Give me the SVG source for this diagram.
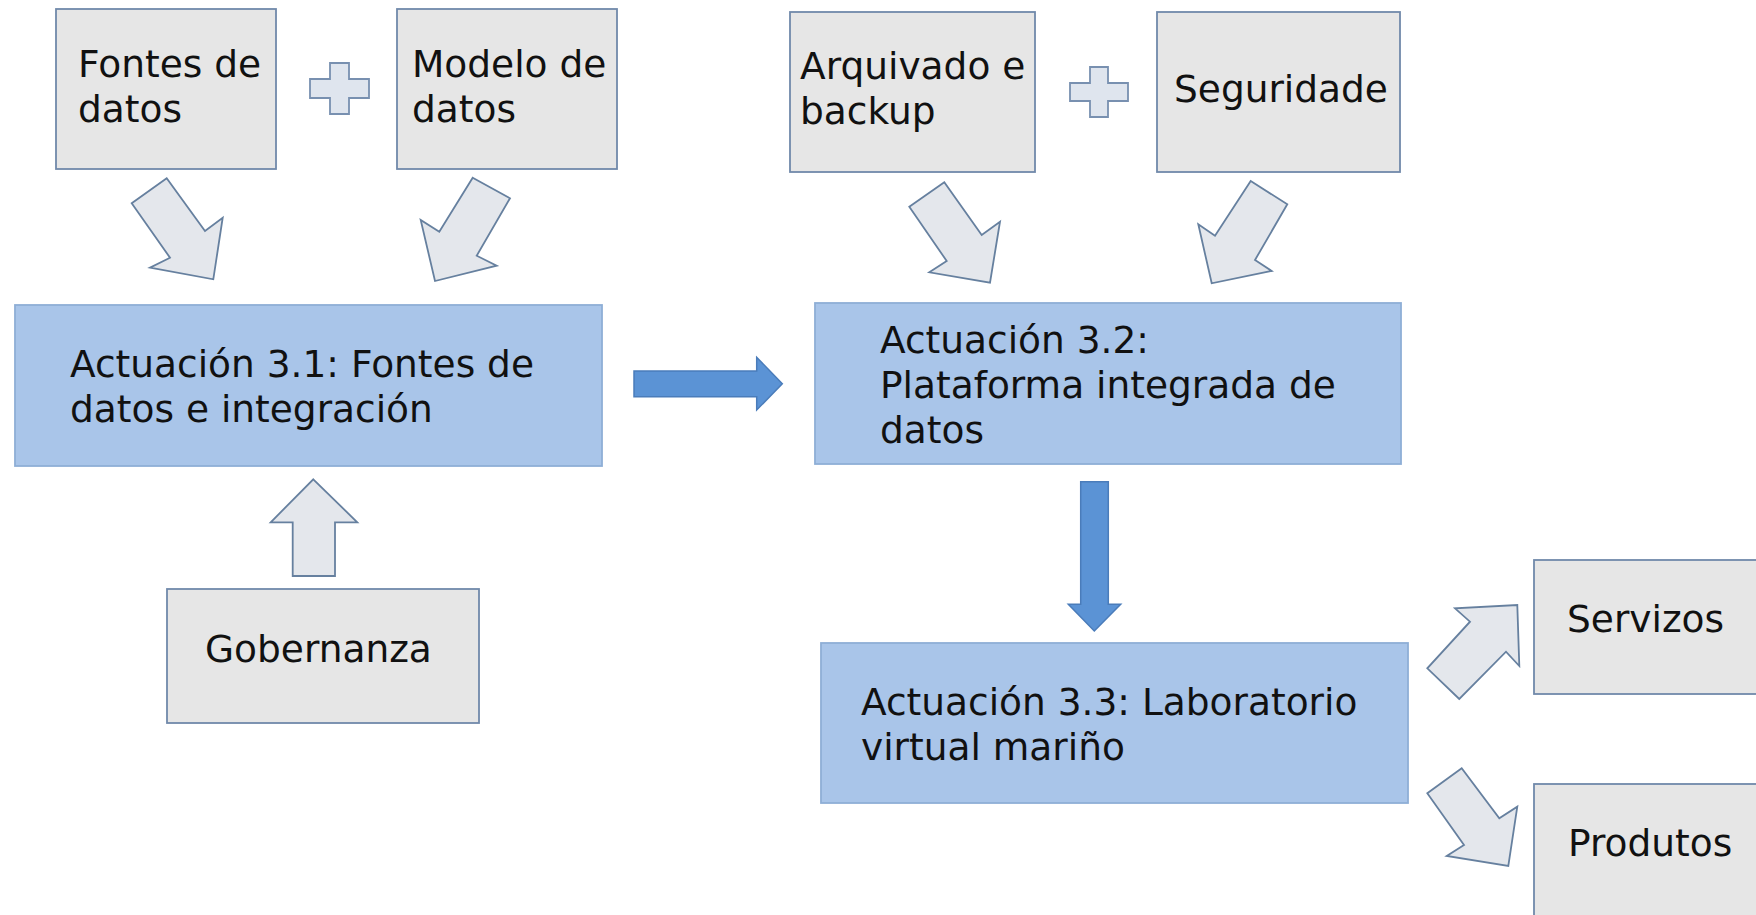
<svg xmlns="http://www.w3.org/2000/svg" width="1756" height="915" viewBox="0 0 1756 915">
<style>
  .grey { fill: #e6e6e6; stroke: #7089aa; stroke-width: 1.8; }
  .blue { fill: #a9c5e9; stroke: #8eaed6; stroke-width: 1.8; }
  .garrow { fill: #e4e7ec; stroke: #66809f; stroke-width: 1.8; stroke-linejoin: miter; }
  .barrow { fill: #5b93d5; stroke: #4a7cba; stroke-width: 1.5; }
  .plus { fill: #dfe5ee; stroke: #7890b0; stroke-width: 1.8; }
  text { font-family: "DejaVu Sans", Verdana, sans-serif; font-size: 37.5px; fill: #111111; }
</style>
<rect width="1756" height="915" fill="#ffffff"/>

<g id="fontes">
  <rect class="grey" x="56" y="9" width="220" height="160"/>
  <text x="78" y="77">Fontes de</text>
  <text x="78" y="122">datos</text>
</g>
<g id="modelo">
  <rect class="grey" x="397" y="9" width="220" height="160"/>
  <text x="412" y="77">Modelo de</text>
  <text x="412" y="122">datos</text>
</g>
<g id="plus1">
  <polygon class="plus" points="330,63 349,63 349,79 369,79 369,98 349,98 349,114 330,114 330,98 310,98 310,79 330,79"/>
</g>
<g id="act31">
  <rect class="blue" x="15" y="305" width="587" height="161"/>
  <text x="70" y="377">Actuación 3.1: Fontes de</text>
  <text x="70" y="422">datos e integración</text>
</g>
<g id="gobernanza">
  <rect class="grey" x="167" y="589" width="312" height="134"/>
  <text x="205" y="662">Gobernanza</text>
</g>
<g id="arquivado">
  <rect class="grey" x="790" y="12" width="245" height="160"/>
  <text x="800" y="79">Arquivado e</text>
  <text x="800" y="124">backup</text>
</g>
<g id="plus2">
  <polygon class="plus" points="1090,67 1108,67 1108,83 1128,83 1128,101 1108,101 1108,117 1090,117 1090,101 1070,101 1070,83 1090,83"/>
</g>
<g id="seguridade">
  <rect class="grey" x="1157" y="12" width="243" height="160"/>
  <text x="1174" y="102">Seguridade</text>
</g>
<g id="act32">
  <rect class="blue" x="815" y="303" width="586" height="161"/>
  <text x="880" y="353">Actuación 3.2:</text>
  <text x="880" y="398">Plataforma integrada de</text>
  <text x="880" y="443">datos</text>
</g>
<g id="act33">
  <rect class="blue" x="821" y="643" width="587" height="160"/>
  <text x="861" y="715">Actuación 3.3: Laboratorio</text>
  <text x="861" y="760">virtual mariño</text>
</g>
<g id="servizos">
  <rect class="grey" x="1534" y="560" width="240" height="134"/>
  <text x="1567" y="632">Servizos</text>
</g>
<g id="produtos">
  <rect class="grey" x="1534" y="784" width="240" height="150"/>
  <text x="1568" y="856">Produtos</text>
</g>

<g id="connectors">
  <polygon class="garrow" points="166.7,178.3 131.7,203.3 170,257.7 150,267.7 213.3,279.3 222.7,217.7 205,231"/>
  <polygon class="garrow" points="472.7,177.7 510,198.3 476.7,255.7 496.7,265.7 435,281 420.7,220 439.3,231.7"/>
  <polygon class="garrow" points="944.3,182.3 909.3,206.7 946.7,261 929.3,272.3 990,282.7 1000,221.7 981.7,235"/>
  <polygon class="garrow" points="1250.7,181 1287.3,204.3 1255,260 1271.7,271 1211.7,283.3 1198.3,224.3 1215,235.7"/>
  <polygon class="garrow" points="313.3,479.3 357.3,522.3 335,522.3 335,576 292.7,576 292.7,522.3 270.7,522.3"/>
  <polygon class="garrow" points="1459.3,699 1427.3,668.3 1470,621.7 1455,608.3 1517.3,605 1519.3,666 1506,651.7"/>
  <polygon class="garrow" points="1461.7,768.3 1427.3,793.3 1464,845 1446.7,856 1508.3,866 1517.3,806.7 1499.3,818.3"/>
  <polygon class="barrow" points="634,371 756.7,371 756.7,357.3 782.3,383.7 756.7,410 756.7,396.7 634,396.7"/>
  <polygon class="barrow" points="1080.7,481.7 1108.3,481.7 1108.3,604.3 1120.7,604.3 1094.3,631 1068.3,604.3 1080.7,604.3"/>
</g>
</svg>
